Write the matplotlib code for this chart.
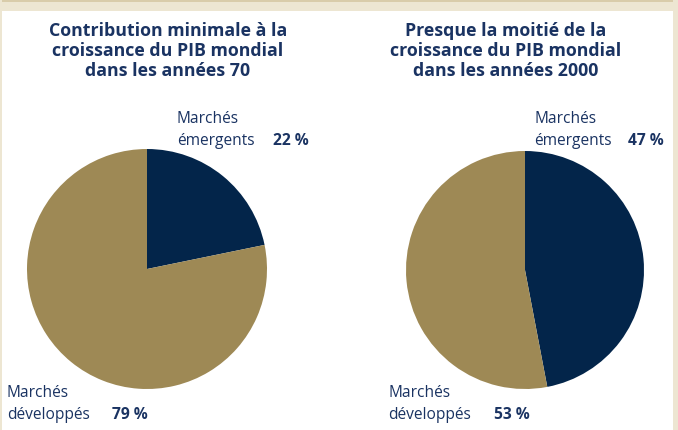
import matplotlib
matplotlib.use("Agg")
import matplotlib.pyplot as plt
from matplotlib.patches import Rectangle

# data
titles = ["Contribution minimale à la\ncroissance du PIB mondial\ndans les années 70",
          "Presque la moitié de la\ncroissance du PIB mondial\ndans les années 2000"]
categories = ["Marchés\némergents", "Marchés\ndéveloppés"]
shares_70s = [22, 79]
shares_2000s = [47, 53]

NAVY = "#03254a"
TAN = "#9e8955"
TEXT = "#1a3362"
BEIGE = "#ede6d2"
W, H = 678, 430

plt.rcParams["font.family"] = ["Open Sans", "DejaVu Sans"]

fig = plt.figure(figsize=(W / 100, H / 100), dpi=100)
fig.patch.set_facecolor("white")


def px(x, y):
    # pixel coords (top-left origin) to figure fraction
    return x / W, 1 - y / H


def frame_rect(x, y, w, h, color):
    fig.patches.append(Rectangle(px(x, y + h), w / W, h / H, transform=fig.transFigure,
                                 facecolor=color, edgecolor="none", zorder=0))


# beige frame along top / sides
frame_rect(0, 0, W, 11, BEIGE)
frame_rect(0, 0, W, 2, "#d9ccaa")
frame_rect(0, 0, 1.5, H, BEIGE)
frame_rect(673, 0, 5, H, BEIGE)


def draw_pie(cx, cy, r, values):
    x0, y0 = px(cx - r, cy + r)
    ax = fig.add_axes([x0, y0, 2 * r / W, 2 * r / H])
    ax.pie(values, colors=[NAVY, TAN], startangle=90, counterclock=False,
           radius=1, wedgeprops=dict(linewidth=0))
    ax.set_xlim(-1, 1)
    ax.set_ylim(-1, 1)
    ax.set_aspect("auto")
    ax.axis("off")
    return ax


draw_pie(147, 269, 120, shares_70s)
draw_pie(525, 270, 119, shares_2000s)

# titles
for cx, title in zip([168, 506], titles):
    for i, line in enumerate(title.split("\n")):
        fig.text(*px(cx, 36 + 20 * i), line, ha="center", va="baseline",
                 fontsize=12.8, fontweight="bold", color=TEXT)


def label(x, y, text, pct, pct_x):
    l1, l2 = text.split("\n")
    fig.text(*px(x, y), l1, ha="left", va="baseline", fontsize=11.2, color=TEXT)
    fig.text(*px(x, y + 22), l2, ha="left", va="baseline", fontsize=11.2, color=TEXT)
    fig.text(*px(pct_x, y + 22), f"{pct} %", ha="left", va="baseline",
             fontsize=11.2, fontweight="bold", color=TEXT)


label(177, 123, categories[0], shares_70s[0], 273)
label(7, 397, categories[1], shares_70s[1], 112)
label(534, 123, categories[0], shares_2000s[0], 628)
label(388, 397, categories[1], shares_2000s[1], 494)

fig.savefig("out.png", dpi=100)
